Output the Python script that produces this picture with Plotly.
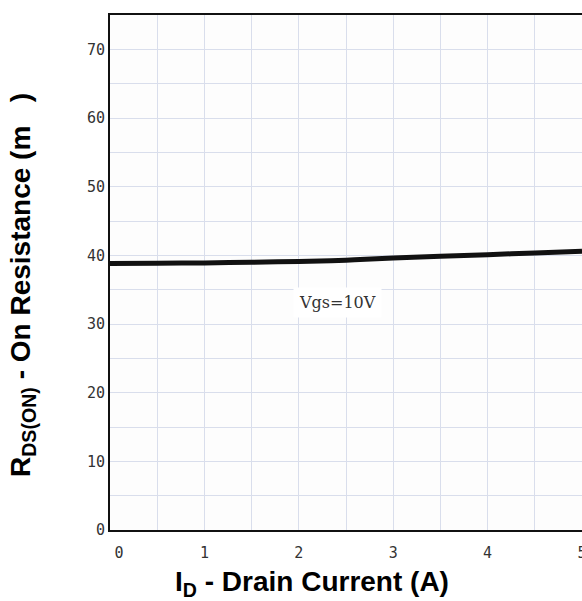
import plotly.graph_objects as go

# Data
drain_current = [0.0, 0.5, 1.0, 1.5, 2.0, 2.5, 3.0, 3.5, 4.0, 4.5, 5.0]
rds_on = [38.8, 38.85, 38.9, 39.0, 39.1, 39.3, 39.6, 39.85, 40.1, 40.35, 40.6]
curve_label = "Vgs=10V"
x_ticks = [0, 1, 2, 3, 4, 5]
x_tick_text = ["\u2007\u20070", "1", "2", "3", "4", "5"]
y_ticks = [0, 10, 20, 30, 40, 50, 60, 70]

tick_font = dict(family="DejaVu Sans Mono, Liberation Mono, monospace", size=15, color="#333333")
grid_color = "#d9deec"

fig = go.Figure()
fig.add_trace(go.Scatter(
    x=drain_current, y=rds_on, mode="lines",
    line=dict(color="#111111", width=5, shape="spline"),
    showlegend=False, hoverinfo="skip",
))

fig.add_annotation(
    x=2.41, y=33.1, xref="x", yref="y", text=curve_label, showarrow=False,
    font=dict(family="DejaVu Serif, Liberation Serif, serif", size=16, color="#333333"),
    bgcolor="white", borderpad=5,
)

fig.add_annotation(
    x=0.428, y=-0.103, xref="paper", yref="paper", xanchor="center", yanchor="middle",
    text="<b>I<sub>D</sub> - Drain Current (A)</b>", showarrow=False,
    font=dict(family="Liberation Sans, Arial, sans-serif", size=28, color="black"),
)
fig.add_annotation(
    x=-0.184, y=0.476, xref="paper", yref="paper", xanchor="center", yanchor="middle",
    text="<b>R<sub>DS(ON)</sub> - On Resistance (m   )</b>", showarrow=False, textangle=-90,
    font=dict(family="Liberation Sans, Arial, sans-serif", size=28, color="black"),
)

fig.update_layout(
    width=582, height=601,
    margin=dict(l=110, r=0, t=15, b=71, autoexpand=False),
    paper_bgcolor="white", plot_bgcolor="#fdfdfd",
    xaxis=dict(
        range=[0, 5], tickvals=x_ticks, ticktext=x_tick_text,
        showgrid=True, gridcolor=grid_color, gridwidth=1,
        minor=dict(dtick=0.5, showgrid=True, gridcolor=grid_color, gridwidth=1),
        showline=True, linecolor="#111111", linewidth=2, mirror=True,
        ticks="", tickfont=tick_font, zeroline=False, ticklabelstandoff=8,
        ticklabeloverflow="allow", automargin=False,
    ),
    yaxis=dict(
        range=[0, 75], tickvals=y_ticks, showgrid=True, gridcolor=grid_color, gridwidth=1,
        minor=dict(dtick=5, showgrid=True, gridcolor=grid_color, gridwidth=1),
        showline=True, linecolor="#111111", linewidth=2,
        ticks="", tickfont=tick_font, zeroline=False, automargin=False,
    ),
)

fig.write_html(
    "out.html", config={"displayModeBar": False},
    post_script=(
        "document.body.style.margin='0';"
        "document.body.style.overflow='hidden';"
        "document.documentElement.style.overflow='hidden';"
    ),
)
